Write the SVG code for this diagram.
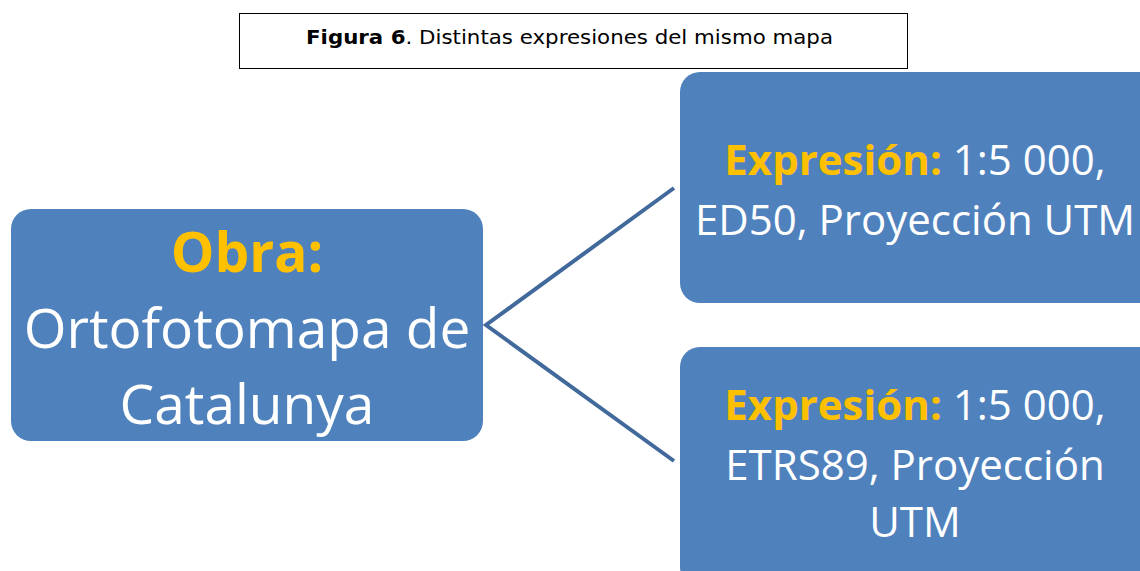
<svg xmlns="http://www.w3.org/2000/svg" width="1140" height="571" viewBox="0 0 1140 571">
<style>
.node{fill:#4F81BD;}
.t{font-family:"Open Sans","Liberation Sans",sans-serif;fill:#FFFFFF;text-anchor:middle;}
.y{fill:#FFC000;font-weight:bold;}
.conn{stroke:#41699B;stroke-width:4;fill:none;}
.title{font-family:"DejaVu Sans","Verdana",sans-serif;font-size:20px;fill:#000;text-anchor:middle;}
</style>
<rect width="1140" height="571" fill="#FFFFFF"/>
<g id="title">
<rect x="239.5" y="13.5" width="668" height="55" fill="#FFFFFF" stroke="#000" stroke-width="1"/>
<text class="title" x="569.5" y="44" textLength="527" lengthAdjust="spacingAndGlyphs"><tspan font-weight="bold">Figura 6</tspan>. Distintas expresiones del mismo mapa</text>
</g>
<g id="connectors">
<polyline class="conn" points="674,188 486,325 674,461"/>
</g>
<g id="obra">
<rect class="node" x="11" y="209" width="472" height="232" rx="20"/>
<text class="t" x="247" y="272" font-size="55"><tspan class="y">Obra:</tspan></text>
<text class="t" x="247" y="348" font-size="55">Ortofotomapa de</text>
<text class="t" x="247" y="424" font-size="55">Catalunya</text>
</g>
<g id="expr1">
<rect class="node" x="680" y="72" width="480" height="231" rx="20"/>
<text class="t" x="915" y="175" font-size="42"><tspan class="y">Expresión:</tspan> 1:5 000,</text>
<text class="t" x="915" y="235" font-size="42">ED50, Proyección UTM</text>
</g>
<g id="expr2">
<rect class="node" x="680" y="347" width="480" height="240" rx="20"/>
<text class="t" x="915" y="420" font-size="42"><tspan class="y">Expresión:</tspan> 1:5 000,</text>
<text class="t" x="915" y="480" font-size="42">ETRS89, Proyección</text>
<text class="t" x="915" y="537" font-size="42">UTM</text>
</g>
</svg>
